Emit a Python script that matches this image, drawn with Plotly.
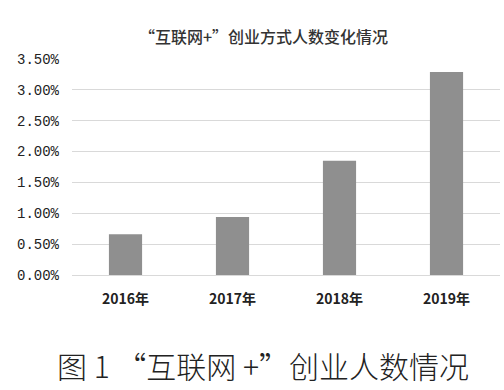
import plotly.graph_objects as go

categories = ["2016年", "2017年", "2018年", "2019年"]
values = [0.0066, 0.0094, 0.0185, 0.0329]
tick_vals = [0, 0.005, 0.01, 0.015, 0.02, 0.025, 0.03, 0.035]
title_text = "“互联网+”创业方式人数变化情况"
caption_text = "图 1 “互联网 +”创业人数情况"

fig = go.Figure()
fig.add_trace(go.Bar(x=categories, y=values, marker=dict(color="#8f8f8f", line=dict(width=0)),
                     width=0.31))

fig.update_layout(
    width=504, height=390,
    margin=dict(l=72, r=4, t=59, b=115),
    paper_bgcolor="white", plot_bgcolor="white",
    showlegend=False,
    font=dict(family="Noto Sans CJK SC", color="#222222"),
)
fig.update_yaxes(range=[0, 0.035], tickvals=tick_vals, tickformat=".2%",
                 showgrid=True, gridcolor="#d9d9d9", gridwidth=1,
                 zeroline=True, zerolinecolor="#d9d9d9", zerolinewidth=1,
                 showline=False, ticks="", ticklabelstandoff=12,
                 tickfont=dict(family="Liberation Mono", size=14, color="#222222"))
fig.update_xaxes(showgrid=False, showline=False, ticks="", ticklabelstandoff=14,
                 tickfont=dict(family="Noto Sans CJK SC", size=14, color="#222222", weight="bold"))

fig.add_annotation(text=title_text, xref="paper", yref="paper", x=(263-72)/428, y=1.0,
                   yshift=23, xanchor="center", yanchor="middle", showarrow=False,
                   font=dict(family="Noto Sans CJK SC", size=16, color="#333333", weight=500))
fig.add_annotation(text=caption_text, xref="paper", yref="paper", x=(263-72)/428, y=0,
                   yshift=-(365-275), xanchor="center", yanchor="middle", showarrow=False,
                   font=dict(family="Noto Sans CJK SC", size=30, color="#222222", weight=300))

fig.write_html("out.html")
